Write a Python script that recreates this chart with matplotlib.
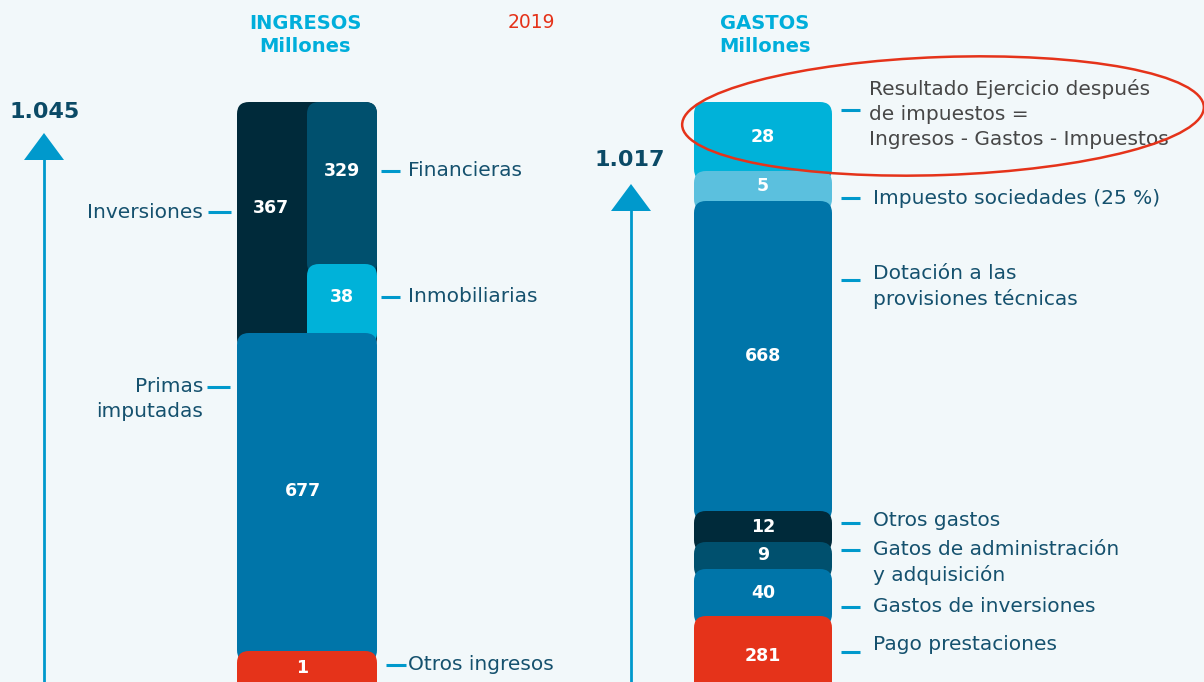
import matplotlib.pyplot as plt
from matplotlib.patches import FancyBboxPatch, Ellipse, Polygon

# data (millones de euros, 2019)
year = "2019"
ing_total = "1.045"
gas_total = "1.017"

ing_names = ["Inversiones", "Financieras", "Inmobiliarias", "Primas\nimputadas", "Otros ingresos"]
ing_values = [367, 329, 38, 677, 1]

gas_names = ["Resultado Ejercicio después\nde impuestos =\nIngresos - Gastos - Impuestos",
             "Impuesto sociedades (25 %)",
             "Dotación a las\nprovisiones técnicas",
             "Otros gastos",
             "Gatos de administración\ny adquisición",
             "Gastos de inversiones",
             "Pago prestaciones"]
gas_values = [28, 5, 668, 12, 9, 40, 281]

# colours
bg = "#F2F8FA"
navy = "#002A3A"
petrol = "#00506E"
blue = "#0075A9"
cyan = "#00B2D9"
light = "#5BC0DE"
red = "#E5331A"
txt = "#15516E"
accent = "#0099CC"

ing_colors = [navy, petrol, cyan, blue, red]
gas_colors = [cyan, light, blue, navy, petrol, blue, red]

# layout (the infographic is not drawn to scale, so box extents are set by hand)
W, H = 1204, 682
top = 102
rad = 12
# ingresos: (x0, x1, top, bottom, text_x, text_y)
ing_boxes = [(237, 377, 102, 350, 271, 208),
             (307, 377, 102, 275, 342, 171),
             (307, 377, 264, 345, 342, 297),
             (237, 377, 333, 662, 303, 491),
             (237, 377, 651, 700, 302, 668)]
# gastos: visible height of each step, top to bottom
gas_steps = [69, 30, 310, 31, 27, 47, 80]
gx0, gx1 = 694, 832

plt.rcParams["font.family"] = ["DejaVu Sans"]
lab_size = 14.5
lab_ls = 1.38

fig = plt.figure(figsize=(W / 100, H / 100), dpi=100, facecolor=bg)
ax = fig.add_axes([0, 0, 1, 1])
ax.set_xlim(0, W)
ax.set_ylim(H, 0)
ax.set_facecolor(bg)
ax.axis("off")


def box(x0, x1, y0, y1, color):
    p = FancyBboxPatch((x0, y0), x1 - x0, y1 - y0,
                       boxstyle=f"round,pad=0,rounding_size={rad}",
                       fc=color, ec="none", zorder=2)
    ax.add_patch(p)


# ingresos column
for (x0, x1, y0, y1, tx, ty), v, c in zip(ing_boxes, ing_values, ing_colors):
    box(x0, x1, y0, y1, c)
    ax.text(tx, ty, str(v), color="white", fontsize=12.5, fontweight="semibold",
            ha="center", va="center", zorder=3)

# gastos column
y = top
for step, v, c in zip(gas_steps, gas_values, gas_colors):
    box(gx0, gx1, y, y + step + 10, c)
    ax.text((gx0 + gx1) / 2, y + step / 2, str(v), color="white", fontsize=12.5,
            fontweight="semibold", ha="center", va="center", zorder=3)
    y += step

# headers
ax.text(305, 35, "INGRESOS\nMillones", color="#00AEDB", fontsize=14, fontweight="bold",
        ha="center", va="center", linespacing=1.33)
ax.text(765, 35, "GASTOS\nMillones", color="#00AEDB", fontsize=14, fontweight="bold",
        ha="center", va="center", linespacing=1.33)
ax.text(531, 22, year, color=red, fontsize=13.5, ha="center", va="center")

# totals with arrows
for tx, ty, val, ax_x, base in [(45, 112, ing_total, 44, 160), (630, 160, gas_total, 631, 211)]:
    ax.text(tx, ty, val, color="#0B4A66", fontsize=16, fontweight="bold",
            ha="center", va="center")
    ax.add_patch(Polygon([(ax_x - 20, base), (ax_x + 20, base), (ax_x, base - 27)],
                         closed=True, fc=accent, ec="none"))
    ax.plot([ax_x, ax_x], [base, H], color=accent, lw=2)

# ingresos labels
ing_lab = [(203, 212, "right", (208, 231, 212)),
           (408, 170, "left", (381, 400, 171)),
           (408, 297, "left", (381, 400, 297)),
           (203, 399, "right", (207, 230, 387)),
           (408, 665, "left", (386, 406, 665))]
for (lx, ly, ha, (d0, d1, dy)), name in zip(ing_lab, ing_names):
    ax.text(lx, ly, name, color=txt, fontsize=lab_size, ha=ha, va="center",
            multialignment=ha, linespacing=lab_ls)
    ax.plot([d0, d1], [dy, dy], color=accent, lw=2.2, solid_capstyle="butt")

# gastos labels
gas_lab = [(869, 114, 110), (873, 198, 198), (873, 286.5, 280), (873, 521, 523),
           (873, 562.5, 550), (873, 607, 607), (873, 645, 652)]
for i, ((lx, ly, dy), name) in enumerate(zip(gas_lab, gas_names)):
    ax.text(lx, ly, name, color="#474747" if i == 0 else txt, fontsize=lab_size,
            ha="left", va="center", linespacing=lab_ls)
    ax.plot([841, 860], [dy, dy], color=accent, lw=2.2, solid_capstyle="butt")

# highlight around the result
ax.add_patch(Ellipse((943, 116), 522, 118, angle=-2, fill=False, ec=red, lw=1.8, zorder=4))

fig.savefig("out.png", dpi=100, facecolor=bg)
